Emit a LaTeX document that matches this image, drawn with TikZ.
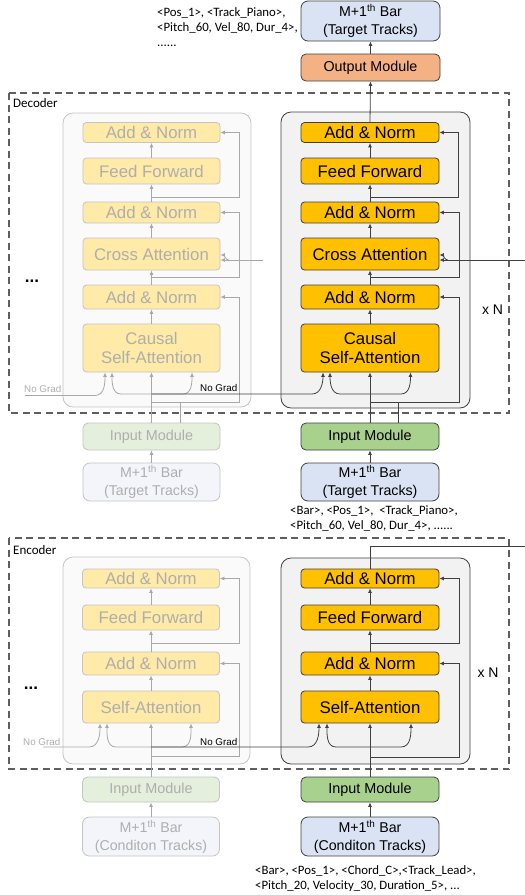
\documentclass[tikz,border=0pt]{standalone}
\usepackage{fontspec}
\setmainfont{Liberation Sans}
\newfontfamily\calib{Carlito}
\usetikzlibrary{arrows.meta}
\definecolor{gold}{HTML}{FFC000}
\definecolor{ggold}{HTML}{FFEAA8}
\definecolor{lblue}{HTML}{DAE3F3}
\definecolor{glblue}{HTML}{F3F5FB}
\definecolor{lgreen}{HTML}{A9D18E}
\definecolor{glgreen}{HTML}{E4EFDC}
\definecolor{orng}{HTML}{F4B183}
\definecolor{lnc}{HTML}{404040}
\definecolor{glnc}{HTML}{A8A8A8}
\definecolor{gbd}{HTML}{C4C4C4}
\definecolor{gtx}{HTML}{AEAEAE}
\definecolor{pnl}{HTML}{F2F2F2}
\definecolor{gpnl}{HTML}{FAFAFA}
\definecolor{dsc}{HTML}{5F5F5F}
\tikzset{
  basebox/.style={rectangle, inner sep=0pt, align=center, line width=0.8pt},
  blk/.style={basebox, rounded corners=3.5pt, draw=lnc, fill=gold, text=black,
    font=\fontsize{16.8}{19.5}\selectfont, minimum width=138pt},
  gblk/.style={blk, draw=gbd, fill=ggold, text=gtx, minimum width=137pt},
  barbox/.style={basebox, rounded corners=7pt, draw=lnc, fill=lblue, text=black,
    font=\fontsize{14.2}{18}\selectfont, minimum width=138pt},
  gbarbox/.style={barbox, draw=gbd, fill=glblue, text=gtx, minimum width=137pt},
  inbox/.style={basebox, rounded corners=5pt, draw=lnc, fill=lgreen, text=black,
    font=\fontsize{14.4}{17}\selectfont, minimum width=138pt},
  ginbox/.style={inbox, draw=gbd, fill=glgreen, text=gtx, minimum width=137pt},
  outbox/.style={basebox, rounded corners=5pt, draw=lnc, fill=orng, text=black,
    font=\fontsize{14.3}{17}\selectfont, minimum width=139pt},
  panel/.style={draw=lnc, fill=pnl, line width=0.8pt, rounded corners=10pt},
  gpanel/.style={draw=gbd, fill=gpnl, line width=0.8pt, rounded corners=10pt},
  dsbox/.style={draw=dsc, line width=1.6pt, dash pattern=on 7pt off 4.5pt},
  arr/.style={-{Latex[length=4.5pt,width=4pt]}, draw=lnc, line width=0.8pt},
  gar/.style={-{Latex[length=4.5pt,width=4pt]}, draw=glnc, line width=0.8pt},
  lnk/.style={draw=lnc, line width=0.8pt},
  glnk/.style={draw=glnc, line width=0.8pt},
  tok/.style={inner sep=0pt, align=left, font=\calib\fontsize{12.8}{15}\selectfont, text=black},
  lbl/.style={inner sep=0pt, font=\calib\fontsize{13}{15}\selectfont, text=black},
  ngb/.style={inner sep=0pt, font=\fontsize{9.8}{11}\selectfont, text=black},
  ngg/.style={inner sep=0pt, font=\fontsize{9.8}{11}\selectfont, text=gtx},
  xn/.style={inner sep=0pt, font=\fontsize{14}{16}\selectfont, text=black},
  dots/.style={inner sep=0pt, font=\bfseries\fontsize{17}{19}\selectfont, text=black}
}
\begin{document}
\begin{tikzpicture}[x=1pt,y=-1pt]
\useasboundingbox (0,0) rectangle (525,895);

% ---------------- top ----------------
\node[tok, anchor=base west] (toptok) at (157,46.5)
  {<Pos\_1>, <Track\_Piano>,\\<Pitch\_60, Vel\_80, Dur\_4>,\\......};
\node[barbox, minimum width=139pt, minimum height=40pt] (tbar) at (370.5,21)
  {M+1\textsuperscript{th} Bar\\(Target Tracks)};
\node[outbox, minimum height=27pt] (outm) at (370.5,67.5) {Output Module};

% ---------------- decoder ----------------
\draw[dsbox] (9,93) rectangle (509,413);
\node[lbl, anchor=west] (declbl) at (13,103) {Decoder};
\draw[gpanel] (63,113) rectangle (251,407);
\draw[panel] (281,112) rectangle (470,408);

% ghost decoder blocks
\node[gblk, minimum height=20pt] (gAN1) at (151.5,132.5) {Add \& Norm};
\node[gblk, minimum height=26pt] (gFF) at (151.5,171) {Feed Forward};
\node[gblk, minimum height=21pt] (gAN2) at (151.5,212.5) {Add \& Norm};
\node[gblk, minimum height=32pt] (gCA) at (151.5,254) {Cross Attention};
\node[gblk, minimum height=24pt] (gAN3) at (151.5,297) {Add \& Norm};
\node[gblk, minimum height=48pt] (gSA) at (151.5,348) {Causal\\Self-Attention};

% main decoder blocks
\node[blk, minimum height=20pt] (dAN1) at (370,132.5) {Add \& Norm};
\node[blk, minimum height=26pt] (dFF) at (370,171) {Feed Forward};
\node[blk, minimum height=21pt] (dAN2) at (370,212.5) {Add \& Norm};
\node[blk, minimum height=32pt] (dCA) at (370,254) {Cross Attention};
\node[blk, minimum height=24pt] (dAN3) at (370,297) {Add \& Norm};
\node[blk, minimum height=48pt] (dSA) at (370,348) {Causal\\Self-Attention};

\node[dots] (ddots) at (32,281) {...};
\node[xn] (dxn) at (492.5,310) {x N};

% decoder inputs
\node[ginbox, minimum height=27pt] (gdIn) at (151.5,436.5) {Input Module};
\node[gbarbox, minimum height=38pt] (gdBar) at (151.5,482) {M+1\textsuperscript{th} Bar\\(Target Tracks)};
\node[inbox, minimum height=27pt] (dIn) at (370,436.5) {Input Module};
\node[barbox, minimum height=38pt] (dBar) at (370,482) {M+1\textsuperscript{th} Bar\\(Target Tracks)};
\node[tok, anchor=base west] (dtok) at (290,529)
  {<Bar>, <Pos\_1>, \ <Track\_Piano>,\\<Pitch\_60, Vel\_80, Dur\_4>, ......};

% ghost decoder connectors
\draw[gar] (gFF.north) -- (gAN1.south);
\draw[gar] (gAN2.north) -- (gFF.south);
\draw[gar] (gCA.north) -- (gAN2.south);
\draw[gar] (gAN3.north) -- (gCA.south);
\draw[gar] (gSA.north) -- (gAN3.south);
\draw[gar] (gdIn.north) -- (gSA.south);
\draw[gar] (gdBar.north) -- (gdIn.south);
\draw[gar] (151.5,197) -- (239,197) |- (gAN1.east);
\draw[gar] (151.5,277) -- (239,277) |- (gAN2.east);
\draw[gar] (151.5,402) -- (239,402) |- (gAN3.east);
\coordinate (gTap) at (180,402);
\draw[glnk] (gTap |- gdIn.north) -- (gTap);
\draw[gar] (151.5,394) -- (121,394) to[out=180,in=-90] ([xshift=-39.5pt]gSA.south);
\draw[gar] (151.5,394) -- (183,394) to[out=0,in=-90] ([xshift=40.5pt]gSA.south);
\draw[gar] (25,395.5) -- (95,395.5) to[out=0,in=-90] ([xshift=-46.5pt]gSA.south);
\draw[glnk] (263,260) -- (229,260);
\draw[gar] (229,260) -- ([yshift=-6pt]gCA.east);
\draw[gar] (229,260) to[out=180,in=0] ([yshift=-1pt]gCA.east);
\node[ngg, anchor=base west] (gng1) at (24,392.5) {No Grad};

% main decoder connectors
\draw[arr] (dAN1.north) -- (outm.south);
\draw[arr] (outm.north) -- (tbar.south);
\draw[arr] (dFF.north) -- (dAN1.south);
\draw[arr] (dAN2.north) -- (dFF.south);
\draw[arr] (dCA.north) -- (dAN2.south);
\draw[arr] (dAN3.north) -- (dCA.south);
\draw[arr] (dSA.north) -- (dAN3.south);
\draw[arr] (dIn.north) -- (dSA.south);
\draw[arr] (dBar.north) -- (dIn.south);
\draw[arr] (370,197) -- (458,197) |- (dAN1.east);
\draw[arr] (370,277) -- (459,277) |- (dAN2.east);
\draw[arr] (370,402) -- (459,402) |- (dAN3.east);
\coordinate (dTap) at (398,402);
\draw[lnk] (dTap |- dIn.north) -- (dTap);
\draw[arr] (370,394) -- (340,394) to[out=180,in=-90] ([xshift=-40pt]dSA.south);
\draw[arr] (370,394) -- (401,394) to[out=0,in=-90] ([xshift=40.5pt]dSA.south);
\draw[arr] (151.5,394) -- (312,394) to[out=0,in=-90] ([xshift=-47pt]dSA.south);
\node[ngb, anchor=base west] (dng) at (200,391.5) {No Grad};
\draw[lnk] (525,260) -- (448,260);
\draw[arr] (448,260) -- ([yshift=-6pt]dCA.east);
\draw[arr] (448,260) to[out=180,in=0] ([yshift=-1pt]dCA.east);

% ---------------- encoder ----------------
\draw[dsbox] (9,538) rectangle (509,769);
\node[lbl, anchor=west] (enclbl) at (13,550) {Encoder};
\draw[gpanel] (63,557) rectangle (250,764);
\draw[panel] (281,558) rectangle (470,764);

\node[gblk, minimum height=19pt] (geAN1) at (151,578.5) {Add \& Norm};
\node[gblk, minimum height=25pt] (geFF) at (151,617.5) {Feed Forward};
\node[gblk, minimum height=23pt] (geAN2) at (151,663.5) {Add \& Norm};
\node[gblk, minimum height=32pt] (geSA) at (151,707) {Self-Attention};

\node[blk, minimum height=19pt] (eAN1) at (370,578.5) {Add \& Norm};
\node[blk, minimum height=25pt] (eFF) at (370,617.5) {Feed Forward};
\node[blk, minimum height=23pt] (eAN2) at (370,663.5) {Add \& Norm};
\node[blk, minimum height=32pt] (eSA) at (370,707) {Self-Attention};

\node[dots] (edots) at (31,688) {...};
\node[xn] (exn) at (488,673) {x N};

\node[ginbox, minimum height=25pt] (geIn) at (151,789.5) {Input Module};
\node[gbarbox, minimum height=39pt] (geBar) at (151,836.5) {M+1\textsuperscript{th} Bar\\(Conditon Tracks)};
\node[inbox, minimum height=25pt] (eIn) at (370,789.5) {Input Module};
\node[barbox, minimum height=39pt] (eBar) at (370,836.5) {M+1\textsuperscript{th} Bar\\(Conditon Tracks)};
\node[tok, anchor=base west] (etok) at (255,889)
  {<Bar>, <Pos\_1>, <Chord\_C>,<Track\_Lead>,\\<Pitch\_20, Velocity\_30, Duration\_5>, ...};

% ghost encoder connectors
\draw[gar] (geFF.north) -- (geAN1.south);
\draw[gar] (geAN2.north) -- (geFF.south);
\draw[gar] (geSA.north) -- (geAN2.south);
\draw[gar] (geIn.north) -- (geSA.south);
\draw[gar] (geBar.north) -- (geIn.south);
\draw[gar] (151,643) -- (239,643) |- (geAN1.east);
\draw[gar] (151,756) -- (239,756) |- (geAN2.east);
\draw[gar] (151,747) -- (116,747) to[out=180,in=-90] ([xshift=-44pt]geSA.south);
\draw[gar] (151,747) -- (182,747) to[out=0,in=-90] ([xshift=40pt]geSA.south);
\draw[gar] (43,747) -- (89,747) to[out=0,in=-90] ([xshift=-51pt]geSA.south);
\node[ngg, anchor=base west] (gng2) at (23,745) {No Grad};

% main encoder connectors
\draw[lnk] (eAN1.north) |- (525,546);
\draw[arr] (eFF.north) -- (eAN1.south);
\draw[arr] (eAN2.north) -- (eFF.south);
\draw[arr] (eSA.north) -- (eAN2.south);
\draw[arr] (eIn.north) -- (eSA.south);
\draw[arr] (eBar.north) -- (eIn.south);
\draw[arr] (370,643) -- (459,643) |- (eAN1.east);
\draw[arr] (370,757) -- (459,757) |- (eAN2.east);
\draw[arr] (370,747) -- (336,747) to[out=180,in=-90] ([xshift=-43pt]eSA.south);
\draw[arr] (370,747) -- (401,747) to[out=0,in=-90] ([xshift=41pt]eSA.south);
\draw[arr] (151,747) -- (308,747) to[out=0,in=-90] ([xshift=-51pt]eSA.south);
\node[ngb, anchor=base west] (eng) at (200,745.5) {No Grad};
\end{tikzpicture}
\end{document}
